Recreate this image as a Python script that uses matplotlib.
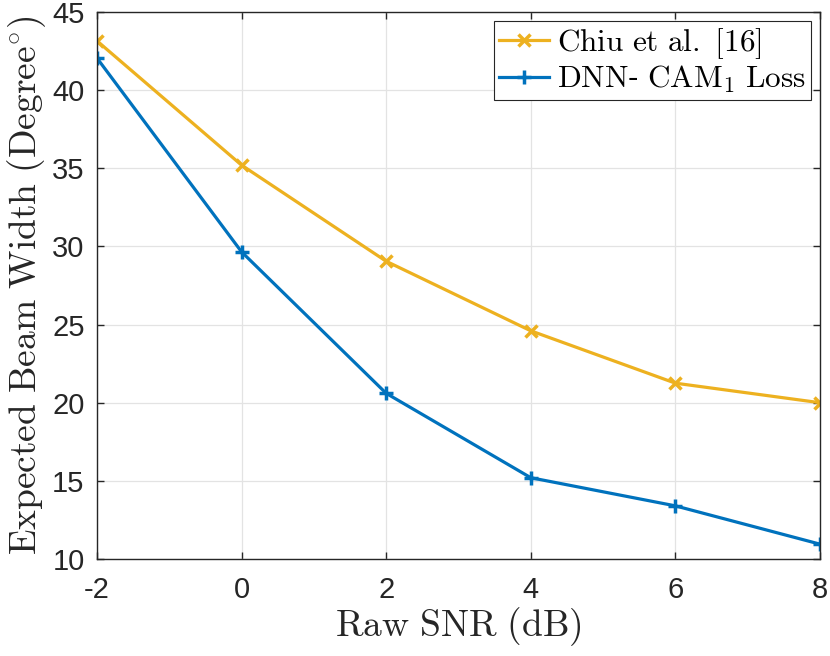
import matplotlib
matplotlib.use('Agg')
import matplotlib.pyplot as plt

plt.rcParams['font.family'] = 'Liberation Sans'
plt.rcParams['mathtext.fontset'] = 'cm'

snr = [-2, 0, 2, 4, 6, 8]
chiu = [43.15, 35.2, 29.05, 24.6, 21.25, 20.0]
dnn = [42.05, 29.65, 20.6, 15.2, 13.4, 10.95]

labels = [r'$\mathrm{Chiu\ et\ al.\ [16]}$',
          r'$\mathrm{DNN}$-$\ \mathrm{CAM}_1\ \mathrm{Loss}$']
xticks = [-2, 0, 2, 4, 6, 8]
xticklabels = ['-2', '0', '2', '4', '6', '8']
yticks = [10, 15, 20, 25, 30, 35, 40, 45]

fig = plt.figure(figsize=(8.3, 6.56), dpi=100)
ax = fig.add_axes([97 / 830, 1 - 559 / 656, 723 / 830, 547 / 656])

ax.plot(snr, chiu, color='#EDB120', lw=2.3, marker='x', ms=8, mew=2.5,
        label=labels[0])
ax.plot(snr, dnn, color='#0072BD', lw=2.3, marker='+', ms=10, mew=2.5,
        label=labels[1])

ax.set_xlim(-2, 8)
ax.set_ylim(10, 45)
ax.set_xticks(xticks)
ax.set_xticklabels(xticklabels)
ax.set_yticks(yticks)
ax.grid(True, color='#E3E3E3', lw=0.9)
ax.set_axisbelow(True)
ax.tick_params(direction='in', length=5, width=1, colors='#262626',
               labelsize=21, top=True, right=True)
ax.tick_params(axis='x', pad=12)
ax.tick_params(axis='y', pad=9)
for s in ax.spines.values():
    s.set_color('#262626')
    s.set_linewidth(1.0)

ax.set_xlabel(r'$\mathrm{Raw\ SNR\ (dB)}$', fontsize=27, color='#262626', labelpad=1)
ax.set_ylabel(r'$\mathrm{Expected\ Beam\ Width\ (Degree^{\circ})}$', fontsize=27,
              color='#262626', labelpad=3)

leg = ax.legend(loc='upper right', fontsize=22.5, fancybox=False, framealpha=1,
                edgecolor='#262626', handlelength=1.6, handletextpad=0.25,
                borderpad=0.15, labelspacing=0.1, borderaxespad=0.3)
leg.get_frame().set_linewidth(0.8)

fig.savefig('out.png', dpi=100, facecolor='white')
